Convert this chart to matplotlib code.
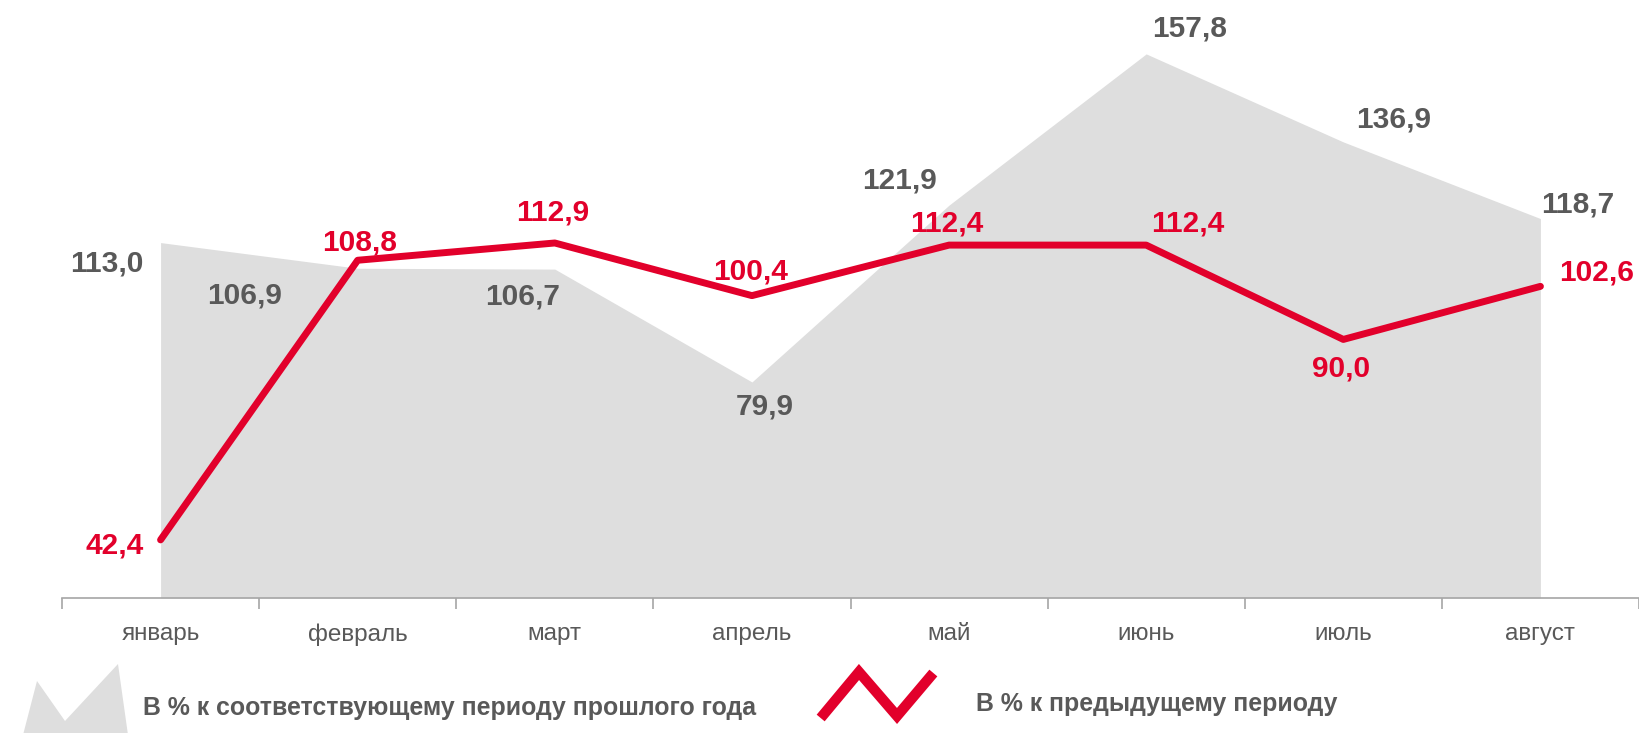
import matplotlib
matplotlib.use("Agg")
from matplotlib import pyplot as plt
from matplotlib.patches import Polygon
from matplotlib.lines import Line2D

plt.rcParams['font.family'] = ['Liberation Sans', 'DejaVu Sans']

months = ["январь", "февраль", "март", "апрель", "май", "июнь", "июль", "август"]
yoy = [113.0, 106.9, 106.7, 79.9, 121.9, 157.8, 136.9, 118.7]   # к соотв. периоду прошлого года
mom = [42.4, 108.8, 112.9, 100.4, 112.4, 112.4, 90.0, 102.6]     # к предыдущему периоду

legend_yoy = "В % к соответствующему периоду прошлого года"
legend_mom = "В % к предыдущему периоду"

# смещения подписей (в пикселях) от точек
yoy_off = [(-54, -21), (-113, -27), (-32, -27), (13, -25), (-50, 25), (43, 25), (50, 22), (37, 14)]
mom_off = [(-46, -6), (2, 18), (-2, 30), (-1, 24), (-2, 22), (42, 22), (-2, -29), (56, 14)]

W, H = 1639, 733
RED = "#E2002B"
GRAY_FILL = "#DEDEDE"
TXT = "#595959"


def fx(x):
    return x / W


def fy(y):
    return 1 - y / H


fig = plt.figure(figsize=(W / 100, H / 100), dpi=100)
ax = fig.add_axes([fx(62), fy(598), (W - 62) / W, 598 / H])
ymin = 28.6
x = list(range(len(months)))

ax.fill_between(x, yoy, ymin, color=GRAY_FILL, lw=0, zorder=1)
ax.plot(x, mom, color=RED, lw=5, solid_joinstyle='round', solid_capstyle='round', zorder=3)

for i in x:
    ax.annotate(f"{yoy[i]:.1f}".replace(".", ","), (i, yoy[i]), xytext=yoy_off[i],
                textcoords='offset pixels', ha='center', va='center',
                fontsize=21.5, fontweight='bold', color=TXT, annotation_clip=False, zorder=4)
    ax.annotate(f"{mom[i]:.1f}".replace(".", ","), (i, mom[i]), xytext=mom_off[i],
                textcoords='offset pixels', ha='center', va='center',
                fontsize=21.5, fontweight='bold', color=RED, annotation_clip=False, zorder=4)

ax.set_xlim(-0.5, 7.5)
ax.set_ylim(ymin, 170.6)
for s in ['top', 'right', 'left']:
    ax.spines[s].set_visible(False)
ax.spines['bottom'].set_color("#A6A6A6")
ax.spines['bottom'].set_linewidth(1.2)
ax.set_yticks([])
ax.set_xticks(x)
ax.set_xticklabels(months, fontsize=17.5, color=TXT)
ax.tick_params(axis='x', which='major', length=0, pad=18)
ax.set_xticks([i - 0.5 for i in range(len(months) + 1)], minor=True)
ax.tick_params(axis='x', which='minor', length=8, color="#A6A6A6", width=1.2)
ax.patch.set_alpha(0)

# легенда
mountain = Polygon([(fx(23), fy(735)), (fx(37), fy(681)), (fx(65), fy(721)),
                    (fx(118), fy(664)), (fx(128), fy(735))],
                   closed=True, transform=fig.transFigure, color=GRAY_FILL, lw=0)
fig.patches.append(mountain)
fig.text(fx(143), fy(708), legend_yoy, fontsize=17.9, fontweight='bold', color=TXT,
         ha='left', va='center')

zig = Line2D([fx(824), fx(859), fx(897), fx(930)], [fy(714), fy(672), fy(716), fy(677)],
             transform=fig.transFigure, color=RED, lw=7.5, solid_joinstyle='miter')
fig.lines.append(zig)
fig.text(fx(976), fy(704), legend_mom, fontsize=17.9, fontweight='bold', color=TXT,
         ha='left', va='center')

fig.savefig("out.png", dpi=100)
